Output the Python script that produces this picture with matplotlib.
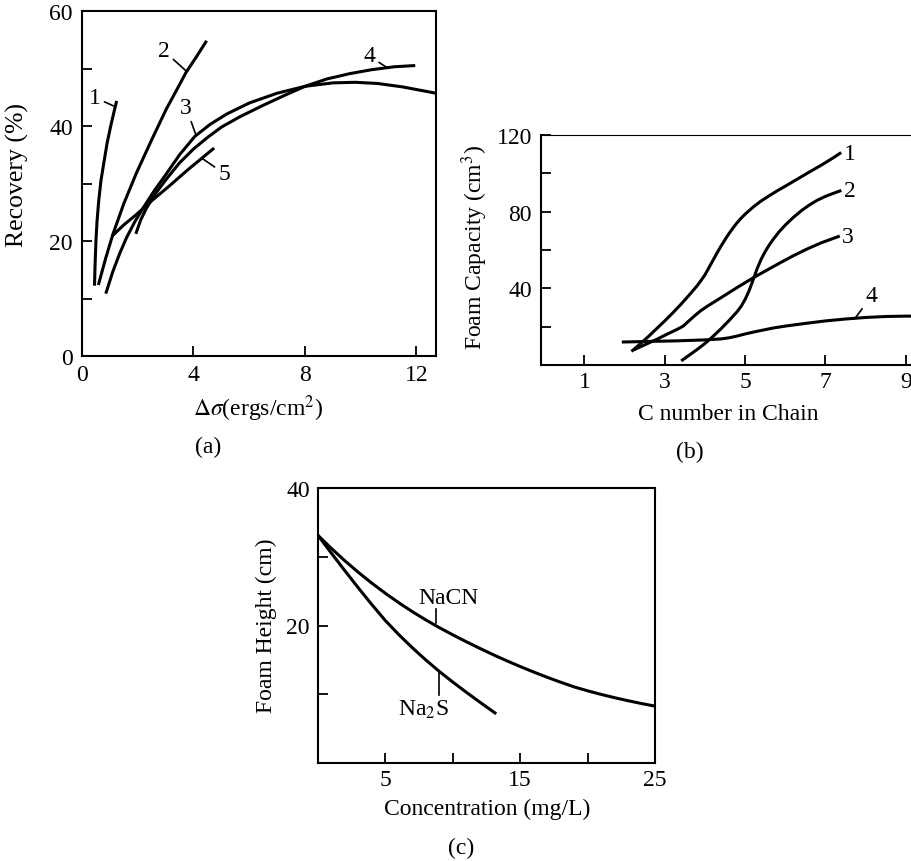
import matplotlib
matplotlib.use("Agg")
import matplotlib.pyplot as plt

plt.rcParams["font.family"] = ["Liberation Serif", "DejaVu Serif"]
plt.rcParams["mathtext.fontset"] = "stix"
plt.rcParams["font.size"] = 17

W, H = 912, 862

# ---- panel (a): recovery vs surface tension change ----
A1_X = [0.45, 0.47, 0.50, 0.54, 0.60, 0.68, 0.78, 0.90, 1.03, 1.15, 1.23]
A1_Y = [12.5, 16.0, 20.0, 23.5, 27.0, 30.5, 33.5, 37.0, 40.0, 42.5, 44.1]
A2_X = [0.60, 0.85, 1.11, 1.50, 1.95, 2.50, 3.03, 3.40, 3.73, 4.10, 4.44]
A2_Y = [12.6, 17.0, 21.2, 26.5, 31.8, 37.6, 43.0, 46.3, 49.3, 52.0, 54.6]
A3_X = [0.87, 1.10, 1.35, 1.60, 1.90, 2.20, 2.60, 3.00, 3.50, 4.05, 4.60, 5.20,
        6.00, 7.00, 8.00, 9.00, 9.80, 10.6, 11.5, 12.7]
A3_Y = [11.1, 14.6, 17.8, 20.6, 23.4, 25.8, 28.8, 31.5, 35.0, 38.2, 40.3, 42.1,
        44.0, 45.7, 46.9, 47.5, 47.6, 47.4, 46.8, 45.7]
A4_X = [1.95, 2.10, 2.30, 2.60, 3.00, 3.50, 4.00, 4.50, 5.00, 5.66, 6.50, 7.30,
        8.00, 8.80, 9.60, 10.4, 11.2, 11.9]
A4_Y = [21.5, 23.6, 25.6, 28.0, 30.6, 33.6, 36.0, 38.0, 39.8, 41.6, 43.6, 45.4,
        46.9, 48.2, 49.1, 49.8, 50.3, 50.5]
A5_X = [1.11, 1.50, 1.95, 2.50, 3.14, 3.80, 4.30, 4.70]
A5_Y = [21.0, 22.8, 24.6, 27.0, 29.6, 32.4, 34.4, 36.0]

# ---- panel (b): foam capacity vs carbon number ----
B1_X = [2.2, 2.4, 2.6, 2.8, 3.0, 3.2, 3.4, 3.6, 3.8, 3.9, 4.0, 4.1, 4.2, 4.3,
        4.4, 4.5, 4.6, 4.7, 4.8, 4.9, 5.0, 5.2, 5.4, 5.6, 5.8, 6.0, 6.3, 6.6,
        6.9, 7.2, 7.36]
B1_Y = [7.6, 11.2, 15.0, 19.0, 23.0, 27.2, 31.6, 36.3, 41.2, 44.0, 47.0, 50.8,
        54.6, 58.4, 62.0, 65.4, 68.6, 71.5, 74.2, 76.6, 78.7, 82.4, 85.6, 88.3,
        90.9, 93.3, 97.0, 100.7, 104.3, 108.2, 110.4]
B2_X = [3.44, 3.6, 3.8, 4.0, 4.2, 4.4, 4.6, 4.8, 4.9, 5.0, 5.1, 5.2, 5.3, 5.4,
        5.5, 5.6, 5.7, 5.85, 6.0, 6.2, 6.4, 6.6, 6.8, 7.0, 7.2, 7.36]
B2_Y = [2.6, 5.0, 8.0, 11.2, 14.9, 18.9, 23.2, 27.8, 30.6, 34.2, 38.8, 44.5,
        50.3, 55.2, 59.2, 62.6, 65.6, 69.6, 73.0, 77.0, 80.5, 83.5, 86.0, 88.0,
        89.6, 90.8]
B3_X = [2.26, 2.5, 2.8, 3.1, 3.3, 3.46, 3.6, 3.75, 3.9, 4.1, 4.3, 4.46, 4.8,
        5.21, 5.5, 5.87, 6.2, 6.53, 6.9, 7.32]
B3_Y = [8.2, 10.5, 13.4, 16.5, 18.5, 20.3, 23.0, 25.8, 28.4, 31.2, 33.8, 35.9,
        40.4, 45.6, 49.0, 53.3, 57.0, 60.4, 63.8, 67.0]
B4_X = [1.97, 2.6, 3.3, 4.0, 4.4, 4.6, 4.8, 5.0, 5.3, 5.7, 6.0, 6.5, 7.0, 7.5,
        8.0, 8.5, 9.0, 9.5, 10.0]
B4_Y = [12.0, 12.3, 12.6, 13.1, 13.6, 14.2, 15.1, 16.2, 17.6, 19.3, 20.3, 21.7,
        23.0, 24.0, 24.8, 25.3, 25.5, 25.5, 25.3]

# ---- panel (c): foam height vs concentration ----
NACN_X = [0, 1, 2, 3, 4, 5, 6, 7, 8, 9, 10, 11, 12, 13, 14, 15, 16, 17, 18,
          19, 20, 21, 22, 23, 24, 25]
NACN_Y = [33.1, 31.2, 29.4, 27.72, 26.15, 24.68, 23.3, 22.01, 20.81, 19.69,
          18.64, 17.64, 16.68, 15.75, 14.87, 14.03, 13.23, 12.47, 11.75, 11.07,
          10.5, 9.98, 9.5, 9.06, 8.65, 8.27]
NA2S_X = [0, 1, 2, 3, 4, 5, 6, 7, 8, 9, 10, 11, 12, 13, 13.13]
NA2S_Y = [33.1, 30.5, 27.95, 25.45, 23.03, 20.71, 18.66, 16.76, 14.98, 13.32,
          11.77, 10.29, 8.86, 7.46, 7.28]

LW = 2.2


def axes_px(fig, left, top, right, bottom):
    return fig.add_axes([left / W, 1 - bottom / H, (right - left) / W, (bottom - top) / H])


def label_px(fig, x, y, s, **kw):
    fig.text(x / W, 1 - y / H, s, ha="center", va="center", **kw)


def style(ax, xmajor, xminor, ymajor, yminor, xpad, ypad, spine_w=1.5):
    ax.set_xticks(xmajor)
    ax.set_xticks(xminor, minor=True)
    ax.set_yticks(ymajor)
    ax.set_yticks(yminor, minor=True)
    ax.tick_params(which="both", direction="in", length=7, width=1.3,
                   top=False, right=False)
    ax.tick_params(axis="x", which="major", pad=xpad)
    ax.tick_params(axis="y", which="major", pad=ypad)
    for sp in ax.spines.values():
        sp.set_linewidth(spine_w)


def leader(ax, text, xy, xytext):
    ax.annotate(text, xy=xy, xytext=xytext, ha="center", va="center",
                arrowprops=dict(arrowstyle="-", lw=1.2, color="black",
                                shrinkA=1, shrinkB=0))


fig = plt.figure(figsize=(W / 100, H / 100), dpi=100)

# (a)
ax = axes_px(fig, 82, 12, 436, 357)
for xs, ys in [(A1_X, A1_Y), (A2_X, A2_Y), (A3_X, A3_Y), (A4_X, A4_Y), (A5_X, A5_Y)]:
    ax.plot(xs, ys, color="black", lw=LW, solid_joinstyle="round")
ax.set_xlim(0, 12.7)
ax.set_ylim(0, 60)
style(ax, [0, 4, 8, 12], [], [0, 20, 40, 60], [10, 30, 50], 6, 6.5)
leader(ax, "1", (1.17, 43.4), (0.45, 45.0))
leader(ax, "2", (3.73, 49.6), (2.93, 53.1))
leader(ax, "3", (4.09, 38.4), (3.73, 43.3))
leader(ax, "4", (10.96, 50.1), (10.3, 52.2))
leader(ax, "5", (4.33, 34.3), (5.11, 31.7))
label_px(fig, 17, 175, "Recovery (%)", rotation=90, fontsize=18.5)
label_px(fig, 258, 409, r"$\Delta\sigma$(ergs/cm$^2$)")
label_px(fig, 208, 447, "(a)")

# (b) - right part runs past the figure edge, as in the source
ax = axes_px(fig, 541, 136, 946, 366)
for xs, ys in [(B1_X, B1_Y), (B2_X, B2_Y), (B3_X, B3_Y), (B4_X, B4_Y)]:
    ax.plot(xs, ys, color="black", lw=LW, solid_joinstyle="round")
ax.set_xlim(-0.08, 10)
ax.set_ylim(0, 120)
style(ax, [1, 3, 5, 7, 9], [], [40, 80, 120], [20, 60, 100], 4, 6.5)
ax.spines["top"].set_linewidth(0.8)
ax.text(B1_X[-1] + 0.1, B1_Y[-1], "1", ha="left", va="center")
ax.text(B2_X[-1] + 0.1, B2_Y[-1], "2", ha="left", va="center")
ax.text(B3_X[-1] + 0.1, B3_Y[-1], "3", ha="left", va="center")
leader(ax, "4", (7.73, 24.2), (8.15, 36.0))
label_px(fig, 475, 248, "Foam Capacity (cm$^3$)", rotation=90)
label_px(fig, 728, 415, "C number in Chain")
label_px(fig, 690, 452, "(b)")

# (c)
ax = axes_px(fig, 318, 489, 655, 764)
ax.plot(NACN_X, NACN_Y, color="black", lw=LW, solid_joinstyle="round")
ax.plot(NA2S_X, NA2S_Y, color="black", lw=LW, solid_joinstyle="round")
ax.set_xlim(0, 25)
ax.set_ylim(0, 40)
style(ax, [5, 15, 25], [10, 20], [20, 40], [10, 30], 4, 5.8)
ax.annotate("NaCN", xy=(8.75, 20.3), xytext=(9.68, 24.1), ha="center", va="center")
ax.plot([8.75, 8.75], [20.3, 22.4], color="black", lw=1.2)
ax.annotate("Na$_2$S", xy=(8.94, 13.3), xytext=(7.83, 7.85), ha="center", va="center")
ax.plot([8.94, 8.94], [9.9, 13.3], color="black", lw=1.2)
label_px(fig, 266, 626, "Foam Height (cm)", rotation=90)
label_px(fig, 487, 809, "Concentration (mg/L)")
label_px(fig, 461, 848, "(c)")

fig.savefig("out.png", dpi=100, facecolor="white")
